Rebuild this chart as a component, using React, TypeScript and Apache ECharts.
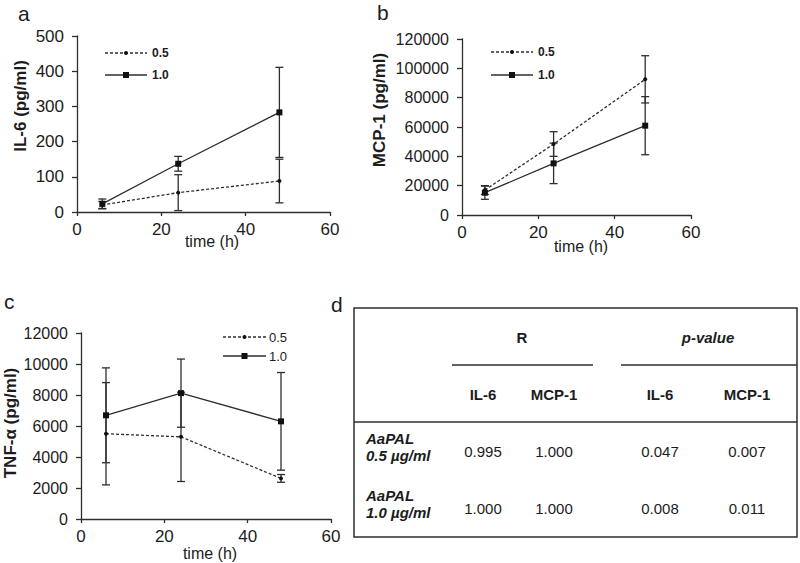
import React, { useEffect, useRef } from "react";
import * as echarts from "echarts";

// ---------- data ----------
const times = [6, 24, 48];
const il6Low = [20, 55, 88];
const il6LowErr = [10, 51, 62];
const il6High = [23, 137, 283];
const il6HighErr = [14, 21, 128];
const mcpLow = [17000, 48400, 92500];
const mcpLowErr = [3000, 8400, 16100];
const mcpHigh = [15200, 35200, 60900];
const mcpHighErr = [4500, 13800, 19800];
const tnfLow = [5500, 5300, 2620];
const tnfLowErr = [3300, 2880, 250];
const tnfHigh = [6690, 8120, 6300];
const tnfHighErr = [3060, 2200, 3150];

const seriesNames = ["0.5", "1.0"];
const xRange = { min: 0, max: 60, interval: 20 };
const yRanges = [
  { min: 0, max: 500, interval: 100 },
  { min: 0, max: 120000, interval: 20000 },
  { min: 0, max: 12000, interval: 2000 },
];
const yTitles = ["IL-6 (pg/ml)", "MCP-1 (pg/ml)", "TNF-α (pg/ml)"];
const xTitle = "time (h)";
const panelLetters = ["a", "b", "c", "d"];

// table panel d
const tableGroups = ["R", "p-value"];
const tableCols = ["IL-6", "MCP-1", "IL-6", "MCP-1"];
const tableRowNames = ["AaPAL", "AaPAL"];
const tableRowDoses = ["0.5 µg/ml", "1.0 µg/ml"];
const tableValues = [
  ["0.995", "1.000", "0.047", "0.007"],
  ["1.000", "1.000", "0.008", "0.011"],
];

const FONT = "'Liberation Sans', Arial, sans-serif";
const INK = "#1c1c1c";
const LINE = "#2e2e2e";

const panels = [
  { low: il6Low, lowErr: il6LowErr, high: il6High, highErr: il6HighErr },
  { low: mcpLow, lowErr: mcpLowErr, high: mcpHigh, highErr: mcpHighErr },
  { low: tnfLow, lowErr: tnfLowErr, high: tnfHigh, highErr: tnfHighErr },
];

const grids = [
  { left: 77, top: 36, width: 253, height: 176 },
  { left: 462, top: 39, width: 229, height: 176 },
  { left: 81, top: 333, width: 250, height: 186 },
];
const yLabelSize = [17, 16, 16];

const errRender = (params: any, api: any) => {
  const x = api.value(0);
  const lo = api.value(1);
  const hi = api.value(2);
  const top = api.coord([x, hi]);
  const bot = api.coord([x, lo]);
  const w = 4;
  const style = { stroke: LINE, lineWidth: 1.3 };
  return {
    type: "group",
    children: [
      { type: "line", shape: { x1: top[0], y1: top[1], x2: bot[0], y2: bot[1] }, style },
      { type: "line", shape: { x1: top[0] - w, y1: top[1], x2: top[0] + w, y2: top[1] }, style },
      { type: "line", shape: { x1: bot[0] - w, y1: bot[1], x2: bot[0] + w, y2: bot[1] }, style },
    ],
  };
};

function buildOption() {
  const xAxis: any[] = [];
  const yAxis: any[] = [];
  const series: any[] = [];
  const graphic: any[] = [];

  grids.forEach((g, i) => {
    xAxis.push({
      type: "value",
      gridIndex: i,
      ...xRange,
      axisLine: { show: true, onZero: false, lineStyle: { color: LINE, width: 1.3 } },
      axisTick: { show: true, length: 4, lineStyle: { color: LINE, width: 1.3 } },
      axisLabel: { fontSize: 17, color: INK, fontFamily: FONT, margin: 9 },
      splitLine: { show: false },
    });
    yAxis.push({
      type: "value",
      gridIndex: i,
      ...yRanges[i],
      axisLine: { show: true, lineStyle: { color: LINE, width: 1.3 } },
      axisTick: { show: true, length: 5, lineStyle: { color: LINE, width: 1.3 } },
      axisLabel: {
        fontSize: yLabelSize[i],
        color: INK,
        fontFamily: FONT,
        margin: 13,
        formatter: (v: number) => String(v),
      },
      splitLine: { show: false },
    });
    const p = panels[i];
    const lowData = times.map((t, k) => [t, p.low[k]]);
    const highData = times.map((t, k) => [t, p.high[k]]);
    const lowErr = times.map((t, k) => [t, p.low[k] - p.lowErr[k], p.low[k] + p.lowErr[k]]);
    const highErr = times.map((t, k) => [t, p.high[k] - p.highErr[k], p.high[k] + p.highErr[k]]);
    series.push(
      {
        type: "custom",
        name: seriesNames[1] + " err",
        xAxisIndex: i,
        yAxisIndex: i,
        renderItem: errRender,
        encode: { x: 0, y: [1, 2] },
        data: highErr,
        z: 1,
      },
      {
        type: "custom",
        name: seriesNames[0] + " err",
        xAxisIndex: i,
        yAxisIndex: i,
        renderItem: errRender,
        encode: { x: 0, y: [1, 2] },
        data: lowErr,
        z: 1,
      },
      {
        type: "line",
        name: seriesNames[0],
        xAxisIndex: i,
        yAxisIndex: i,
        data: lowData,
        symbol: "circle",
        symbolSize: 4,
        lineStyle: { color: LINE, width: 1.3, type: [3, 2] },
        itemStyle: { color: "#111" },
        z: 3,
      },
      {
        type: "line",
        name: seriesNames[1],
        xAxisIndex: i,
        yAxisIndex: i,
        data: highData,
        symbol: "rect",
        symbolSize: 6,
        lineStyle: { color: LINE, width: 1.3, type: "solid" },
        itemStyle: { color: "#111" },
        z: 3,
      }
    );
  });

  // legends
  const legends = [
    { x1: 105, x2: 147, y1: 53, y2: 75, tx: 152, bold: true, fs: 12 },
    { x1: 491, x2: 533, y1: 52, y2: 75, tx: 538, bold: true, fs: 12 },
    { x1: 223, x2: 266, y1: 337, y2: 356, tx: 269, bold: false, fs: 13 },
  ];
  legends.forEach((L) => {
    const mx = (L.x1 + L.x2) / 2;
    graphic.push(
      { type: "line", shape: { x1: L.x1, y1: L.y1, x2: L.x2, y2: L.y1 }, style: { stroke: LINE, lineWidth: 1.3, lineDash: [3, 2] } },
      { type: "circle", shape: { cx: mx, cy: L.y1, r: 2 }, style: { fill: "#111" } },
      { type: "text", x: L.tx, y: L.y1, style: { text: seriesNames[0], font: `${L.bold ? "bold " : ""}${L.fs}px ${FONT}`, fill: INK, textVerticalAlign: "middle" } },
      { type: "line", shape: { x1: L.x1, y1: L.y2, x2: L.x2, y2: L.y2 }, style: { stroke: LINE, lineWidth: 1.3 } },
      { type: "rect", shape: { x: mx - 3, y: L.y2 - 3, width: 6, height: 6 }, style: { fill: "#111" } },
      { type: "text", x: L.tx, y: L.y2, style: { text: seriesNames[1], font: `${L.bold ? "bold " : ""}${L.fs}px ${FONT}`, fill: INK, textVerticalAlign: "middle" } }
    );
  });

  // axis titles
  const yTitlePos = [
    [20, 106],
    [379, 110],
    [10, 423],
  ];
  yTitles.forEach((t, i) => {
    graphic.push({
      type: "text",
      x: yTitlePos[i][0],
      y: yTitlePos[i][1],
      rotation: Math.PI / 2,
      style: { text: t, font: `bold 17px ${FONT}`, fill: INK, textAlign: "center", textVerticalAlign: "middle" },
    });
  });
  const xTitlePos = [
    [212, 241],
    [581, 246],
    [210, 553],
  ];
  xTitlePos.forEach((p) => {
    graphic.push({
      type: "text",
      x: p[0],
      y: p[1],
      style: { text: xTitle, font: `16px ${FONT}`, fill: INK, textAlign: "center", textVerticalAlign: "middle" },
    });
  });

  // panel letters
  const letterPos = [
    [18, 13],
    [377, 12],
    [4, 301],
    [331, 304],
  ];
  panelLetters.forEach((l, i) => {
    graphic.push({
      type: "text",
      x: letterPos[i][0],
      y: letterPos[i][1],
      style: { text: l, font: `21px ${FONT}`, fill: INK, textVerticalAlign: "middle" },
    });
  });

  // table
  const tl = 354, tt = 308, tr = 797, tb = 537;
  graphic.push(
    { type: "rect", shape: { x: tl, y: tt, width: tr - tl, height: tb - tt }, style: { fill: "none", stroke: LINE, lineWidth: 1.5 } },
    { type: "line", shape: { x1: tl, y1: 422, x2: tr, y2: 422 }, style: { stroke: LINE, lineWidth: 1.5 } },
    { type: "line", shape: { x1: 452, y1: 365, x2: 593, y2: 365 }, style: { stroke: LINE, lineWidth: 1.5 } },
    { type: "line", shape: { x1: 621, y1: 365, x2: tr, y2: 365 }, style: { stroke: LINE, lineWidth: 1.5 } }
  );
  const groupX = [522, 708];
  tableGroups.forEach((g, i) => {
    graphic.push({
      type: "text",
      x: groupX[i],
      y: 337,
      style: { text: g, font: `${i === 1 ? "italic " : ""}bold 15px ${FONT}`, fill: INK, textAlign: "center", textVerticalAlign: "middle" },
    });
  });
  const colX = [483, 554, 660, 747];
  tableCols.forEach((c, i) => {
    graphic.push({
      type: "text",
      x: colX[i],
      y: 394,
      style: { text: c, font: `bold 15px ${FONT}`, fill: INK, textAlign: "center", textVerticalAlign: "middle" },
    });
  });
  const rowNameY = [438, 495];
  const rowDoseY = [455, 512];
  const rowValY = [451, 508];
  tableRowNames.forEach((n, r) => {
    graphic.push(
      { type: "text", x: 366, y: rowNameY[r], style: { text: n, font: `italic bold 15px ${FONT}`, fill: INK, textVerticalAlign: "middle" } },
      { type: "text", x: 366, y: rowDoseY[r], style: { text: tableRowDoses[r], font: `italic bold 15px ${FONT}`, fill: INK, textVerticalAlign: "middle" } }
    );
    tableValues[r].forEach((v, c) => {
      graphic.push({
        type: "text",
        x: colX[c],
        y: rowValY[r],
        style: { text: v, font: `15px ${FONT}`, fill: INK, textAlign: "center", textVerticalAlign: "middle" },
      });
    });
  });

  return {
    animation: false,
    backgroundColor: "#ffffff",
    textStyle: { fontFamily: FONT },
    grid: grids.map((g) => ({ ...g, containLabel: false })),
    xAxis,
    yAxis,
    series,
    graphic: { elements: graphic },
  };
}

export default function App() {
  const ref = useRef<HTMLDivElement>(null);
  useEffect(() => {
    if (!ref.current) return;
    const chart = echarts.init(ref.current, undefined, { renderer: "svg" });
    chart.setOption(buildOption() as any);
    return () => chart.dispose();
  }, []);
  return (
    <div
      ref={ref}
      style={{ position: "absolute", left: 0, top: 0, width: 800, height: 563, background: "#fff" }}
    />
  );
}
